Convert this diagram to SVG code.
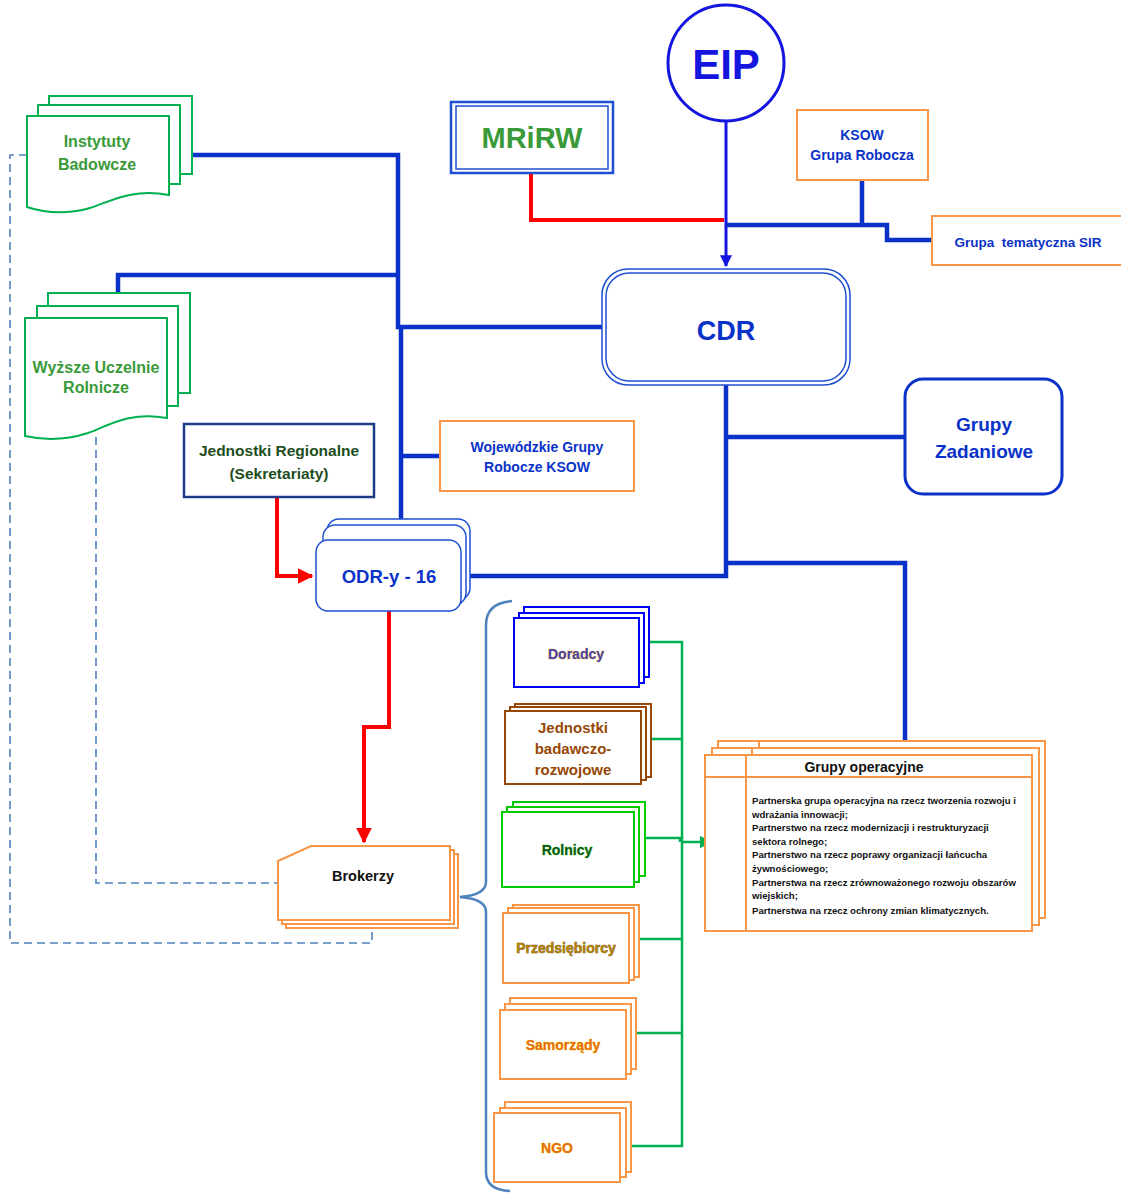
<svg xmlns="http://www.w3.org/2000/svg" width="1121" height="1193" viewBox="0 0 1121 1193">
<defs>
<style>
text{font-family:"Liberation Sans",Arial,sans-serif;font-weight:bold;text-anchor:middle}
.bl{fill:none;stroke:#0A32C8;stroke-width:4.5}
.rd{fill:none;stroke:#FF0000;stroke-width:4}
.gr{fill:none;stroke:#00B050;stroke-width:2.5}
.ds{fill:none;stroke:#4F81BD;stroke-width:1.6;stroke-dasharray:8,5}
.doc{fill:#fff;stroke:#00B050;stroke-width:2}
.or{fill:#fff;stroke:#F79646;stroke-width:2}
.gtxt{fill:#3A9A3A;font-size:16px}
.btxt{fill:#0A32C8}
.list{font-size:9.6px;fill:#111;text-anchor:start}
</style>
<marker id="ab" viewBox="0 0 10 10" refX="9" refY="5" markerWidth="4" markerHeight="4" orient="auto"><path d="M0,0 L10,5 L0,10 Z" fill="#1515E0"/></marker>
<marker id="ar" viewBox="0 0 10 10" refX="9" refY="5" markerWidth="4" markerHeight="4" orient="auto"><path d="M0,0 L10,5 L0,10 Z" fill="#FF0000"/></marker>
<marker id="ag" viewBox="0 0 10 10" refX="9" refY="5" markerWidth="5" markerHeight="5" orient="auto"><path d="M0,0 L10,5 L0,10 Z" fill="#00B050"/></marker>
</defs>

<g id="connectors">
<path class="ds" d="M27,155 H10 V943 H372 V928"/>
<path class="ds" d="M96,437 V883 H278"/>
<path class="bl" d="M192,155 H398 V327 H602"/>
<path class="bl" d="M118,293 V275 H398"/>
<path class="bl" d="M401,327 V519"/>
<path class="bl" d="M401,456 H440"/>
<path class="rd" d="M531,174 V220 H724"/>
<path fill="none" stroke="#1515E0" stroke-width="3" d="M726,121 V266" marker-end="url(#ab)"/>
<path class="bl" d="M726,225 H887 V240 H932"/>
<path class="bl" d="M862,180 V225"/>
<path class="bl" d="M726,385 V576 H461"/>
<path class="bl" d="M726,437 H905"/>
<path class="bl" d="M726,563 H905 V741"/>
<path class="rd" d="M277,497 V576 H312" marker-end="url(#ar)"/>
<path class="rd" d="M389,611 V727 H364 V842" marker-end="url(#ar)"/>
<path fill="none" stroke="#4F81BD" stroke-width="2.5" d="M512,601 Q486,603 486,625 V882 Q486,895 460,897 Q486,899 486,912 V1172 Q486,1190 510,1191"/>
<path class="gr" d="M649,642 H682 V1146 H621"/>
<path class="gr" d="M651,739 H682"/>
<path class="gr" d="M645,838 H680 V842"/>
<path class="gr" d="M639,939 H682"/>
<path class="gr" d="M636,1033 H682"/>
<path class="gr" d="M682,842 H711" marker-end="url(#ag)"/>
</g>

<g id="eip">
<circle cx="726" cy="63" r="58" fill="#fff" stroke="#1515E0" stroke-width="3"/>
<text x="726" y="79" font-size="42" fill="#1515E0">EIP</text>
</g>

<g id="mrirw">
<rect x="451" y="102" width="162" height="71" fill="#fff" stroke="#1F4FD0" stroke-width="2.5"/>
<rect x="456" y="106" width="152" height="63" fill="none" stroke="#1F4FD0" stroke-width="1.5"/>
<text x="532" y="148" font-size="29" fill="#3A9A3A">MRiRW</text>
</g>

<g id="ksow">
<rect x="797" y="110" width="131" height="70" class="or"/>
<text x="862" y="140" font-size="14" class="btxt">KSOW</text>
<text x="862" y="160" font-size="14" class="btxt">Grupa Robocza</text>
</g>

<g id="sir">
<rect x="932" y="216" width="195" height="49" class="or"/>
<text x="1028" y="247" font-size="13.5" class="btxt" xml:space="preserve">Grupa  tematyczna SIR</text>
</g>

<g id="cdr">
<rect x="602" y="269" width="248" height="116" rx="26" fill="#fff" stroke="#1F4FD0" stroke-width="1.5"/>
<rect x="606" y="273" width="240" height="108" rx="23" fill="none" stroke="#1F4FD0" stroke-width="1.5"/>
<text x="726" y="340" font-size="27" class="btxt">CDR</text>
</g>

<g id="grupy-zadaniowe">
<rect x="905" y="379" width="157" height="115" rx="18" fill="#fff" stroke="#0A32C8" stroke-width="3"/>
<text x="984" y="431" font-size="19" class="btxt">Grupy</text>
<text x="984" y="458" font-size="19" class="btxt">Zadaniowe</text>
</g>

<g id="instytuty">
<rect x="49" y="96" width="143" height="78" class="doc"/>
<rect x="38" y="105" width="142" height="79" class="doc"/>
<path class="doc" d="M27,116 H169 V195 C130,188 110,202 90,208 C65,215 45,213 27,207 Z"/>
<text x="97" y="147" class="gtxt">Instytuty</text>
<text x="97" y="170" class="gtxt">Badowcze</text>
</g>

<g id="wyzsze">
<rect x="48" y="293" width="142" height="100" class="doc"/>
<rect x="37" y="306" width="141" height="100" class="doc"/>
<path class="doc" d="M25,318 H167 V418 C128,411 108,426 88,433 C63,441 43,440 25,436 Z"/>
<text x="96" y="373" class="gtxt" font-size="15.5">Wyższe Uczelnie</text>
<text x="96" y="393" class="gtxt" font-size="15.5">Rolnicze</text>
</g>

<g id="jednostki-regionalne">
<rect x="184" y="424" width="190" height="73" fill="#fff" stroke="#1F3C88" stroke-width="2.5"/>
<text x="279" y="456" font-size="15.5" fill="#1E4E1E">Jednostki Regionalne</text>
<text x="279" y="479" font-size="15.5" fill="#1E4E1E">(Sekretariaty)</text>
</g>

<g id="wojewodzkie">
<rect x="440" y="421" width="194" height="70" class="or"/>
<text x="537" y="452" font-size="14" class="btxt">Wojewódzkie Grupy</text>
<text x="537" y="472" font-size="14" class="btxt">Robocze KSOW</text>
</g>

<g id="odr">
<rect x="327" y="519" width="143" height="81" rx="12" fill="#fff" stroke="#1F4FD0" stroke-width="1.5"/>
<rect x="323" y="525" width="143" height="80" rx="12" fill="#fff" stroke="#1F4FD0" stroke-width="1.5"/>
<rect x="316" y="540" width="145" height="71" rx="12" fill="#fff" stroke="#1F4FD0" stroke-width="1.5"/>
<text x="389" y="583" font-size="18.5" class="btxt">ODR-y - 16</text>
</g>

<g id="brokerzy">
<path d="M286,869 L319,854 H458 V928 H286 Z" class="or"/>
<path d="M282,865 L315,850 H454 V924 H282 Z" class="or"/>
<path d="M278,861 L311,846 H450 V920 H278 Z" class="or"/>
<text x="363" y="881" font-size="14.5" fill="#111">Brokerzy</text>
</g>

<g id="doradcy">
<rect x="524" y="607" width="125" height="70" fill="#fff" stroke="#0000FF" stroke-width="2"/>
<rect x="519" y="613" width="125" height="70" fill="#fff" stroke="#0000FF" stroke-width="2"/>
<rect x="514" y="618" width="125" height="69" fill="#fff" stroke="#0000FF" stroke-width="2"/>
<text x="576" y="659" font-size="14" fill="#4A3FB0" stroke="#F5C000" stroke-width="0.7" paint-order="stroke">Doradcy</text>
</g>

<g id="jednostki-br">
<rect x="515" y="704" width="136" height="73" fill="#fff" stroke="#974806" stroke-width="2"/>
<rect x="510" y="707" width="136" height="73" fill="#fff" stroke="#974806" stroke-width="2"/>
<rect x="505" y="711" width="136" height="73" fill="#fff" stroke="#974806" stroke-width="2"/>
<text x="573" y="733" font-size="15" fill="#974806">Jednostki</text>
<text x="573" y="754" font-size="15" fill="#974806">badawczo-</text>
<text x="573" y="775" font-size="15" fill="#974806">rozwojowe</text>
</g>

<g id="rolnicy">
<rect x="513" y="802" width="132" height="74" fill="#fff" stroke="#00CC00" stroke-width="2"/>
<rect x="507" y="807" width="132" height="75" fill="#fff" stroke="#00CC00" stroke-width="2"/>
<rect x="502" y="812" width="132" height="75" fill="#fff" stroke="#00CC00" stroke-width="2"/>
<text x="567" y="855" font-size="14" fill="#0A5A0A" stroke="#3BCB3B" stroke-width="0.5" paint-order="stroke">Rolnicy</text>
</g>

<g id="przedsiebiorcy">
<rect x="513" y="905" width="126" height="72" class="or"/>
<rect x="508" y="908" width="126" height="72" class="or"/>
<rect x="503" y="913" width="126" height="70" class="or"/>
<text x="566" y="953" font-size="14" fill="#B08000" stroke="#5A3A00" stroke-width="0.5" paint-order="stroke">Przedsiębiorcy</text>
</g>

<g id="samorzady">
<rect x="510" y="998" width="126" height="71" class="or"/>
<rect x="505" y="1004" width="126" height="70" class="or"/>
<rect x="500" y="1010" width="126" height="69" class="or"/>
<text x="563" y="1050" font-size="14" fill="#E46C0A" stroke="#FFD000" stroke-width="0.6" paint-order="stroke">Samorządy</text>
</g>

<g id="ngo">
<rect x="505" y="1102" width="126" height="70" class="or"/>
<rect x="500" y="1108" width="126" height="69" class="or"/>
<rect x="494" y="1113" width="126" height="69" class="or"/>
<text x="557" y="1153" font-size="14" fill="#E46C0A" stroke="#FFD000" stroke-width="0.6" paint-order="stroke">NGO</text>
</g>

<g id="grupy-operacyjne">
<rect x="718" y="741" width="327" height="177" class="or"/>
<line x1="759" y1="741" x2="759" y2="760" stroke="#F79646" stroke-width="2"/>
<rect x="712" y="748" width="327" height="177" class="or"/>
<line x1="752" y1="748" x2="752" y2="760" stroke="#F79646" stroke-width="2"/>
<rect x="705" y="755" width="327" height="176" class="or"/>
<line x1="746" y1="755" x2="746" y2="931" stroke="#F79646" stroke-width="2"/>
<line x1="705" y1="777" x2="1032" y2="777" stroke="#F79646" stroke-width="2"/>
<text x="864" y="772" font-size="14" fill="#111">Grupy operacyjne</text>
<text class="list" x="752" y="804">Partnerska grupa operacyjna na rzecz tworzenia rozwoju i</text>
<text class="list" x="752" y="818">wdrażania innowacji;</text>
<text class="list" x="752" y="831">Partnerstwo na rzecz modernizacji i restrukturyzacji</text>
<text class="list" x="752" y="845">sektora rolnego;</text>
<text class="list" x="752" y="858">Partnerstwo na rzecz poprawy organizacji łańcucha</text>
<text class="list" x="752" y="872">żywnościowego;</text>
<text class="list" x="752" y="886">Partnerstwa na rzecz zrównoważonego rozwoju obszarów</text>
<text class="list" x="752" y="899">wiejskich;</text>
<text class="list" x="752" y="914">Partnerstwa na rzecz ochrony zmian klimatycznych.</text>
</g>
</svg>
